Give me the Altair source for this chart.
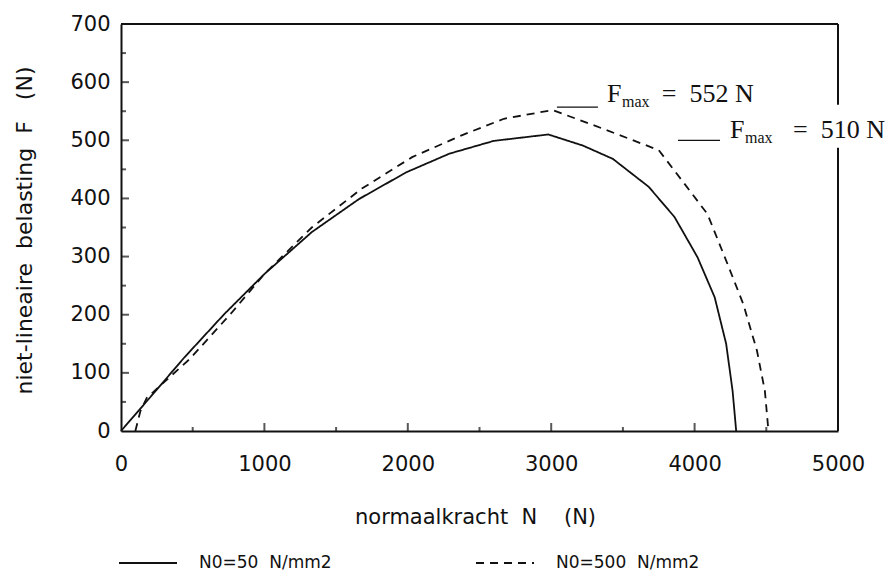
import altair as alt
import pandas as pd

# ---- data ----
series_names = ["N0=50\u00a0\u00a0N/mm2", "N0=500\u00a0\u00a0N/mm2"]

n_solid = [0, 200, 440, 720, 1000, 1330, 1660, 1990, 2290, 2600, 2980, 3220, 3430,
           3680, 3860, 4020, 4140, 4220, 4265, 4290]
f_solid = [0, 57, 126, 201, 270, 342, 399, 445, 477, 499, 510, 491, 468,
           420, 368, 299, 230, 150, 69, 0]

n_dash = [100, 135, 180, 480, 770, 1000, 1330, 1680, 2030, 2380, 2670, 3010, 3360,
          3750, 3930, 4090, 4230, 4340, 4435, 4490, 4515]
f_dash = [0, 34, 57, 124, 203, 270, 350, 417, 471, 509, 537, 552, 520,
          483, 425, 373, 287, 218, 138, 69, 0]

x_ticks = [0, 1000, 2000, 3000, 4000, 5000]
y_ticks = [0, 100, 200, 300, 400, 500, 600, 700]
x_minor = [500, 1500, 2500, 3500, 4500]
y_minor = [50, 150, 250, 350, 450, 550, 650]

# annotations (F_max labels)
ann_values = ["552", "510"]
ann_f_n = [3389, 4247]      # where "F" starts
ann_eq_n = [3771, 4686]     # where "= ... N" starts
ann_base_f = [566, 504]     # text baseline
ann_line_n1 = [3040, 3884]  # leader line start
ann_line_n2 = [3326, 4177]  # leader line end
ann_line_f = [557, 500]

# frame segments (right edge interrupted by the annotation)
frame_x1 = [0, 5000, 5000]
frame_x2 = [5000, 5000, 5000]
frame_y1 = [700, 0, 561]
frame_y2 = [700, 487, 700]

# ---- tables ----
rows = []
for i, (n, f) in enumerate(zip(n_solid, f_solid)):
    rows.append({"series": series_names[0], "n": n, "f": f, "i": i})
for i, (n, f) in enumerate(zip(n_dash, f_dash)):
    rows.append({"series": series_names[1], "n": n, "f": f, "i": i})
df = pd.DataFrame(rows)

ann = pd.DataFrame({
    "fn": ann_f_n, "eqn": ann_eq_n, "bf": ann_base_f,
    "eq": ["=\u00a0\u00a0" + v + "\u00a0N" for v in ann_values],
    "l1": ann_line_n1, "l2": ann_line_n2, "lf": ann_line_f,
})
frame = pd.DataFrame({"x1": frame_x1, "x2": frame_x2, "y1": frame_y1, "y2": frame_y2})

xt_major = pd.DataFrame({"v": x_ticks[1:-1], "z": 0})
xt_minor = pd.DataFrame({"v": x_minor, "z": 0})
yt_major = pd.DataFrame({"v": y_ticks[1:-1], "z": 0})
yt_minor = pd.DataFrame({"v": y_minor, "z": 0})

W, H = 717, 407
INK = "#111111"
SANS = "DejaVu Sans"
SERIF = "Liberation Serif"

xs = alt.Scale(domain=[0, 5000], nice=False, zero=False)
ys = alt.Scale(domain=[0, 700], nice=False, zero=False)

lines = alt.Chart(df).mark_line(strokeWidth=1.8, color=INK).encode(
    x=alt.X("n:Q", scale=xs, axis=alt.Axis(
        values=x_ticks, format="d", ticks=False, tickSize=0, grid=False,
        domain=True, domainColor=INK, domainWidth=2,
        labelFont=SANS, labelFontSize=21, labelColor=INK, labelPadding=22,
        labelFlush=False, labelOverlap=False,
        title="normaalkracht\u00a0\u00a0N\u00a0\u00a0\u00a0\u00a0(N)",
        titleFont=SANS, titleFontSize=21, titleFontWeight="normal", titleColor=INK,
        titleX=354, titleY=86, titleAlign="center", titleBaseline="middle")),
    y=alt.Y("f:Q", scale=ys, axis=alt.Axis(
        values=y_ticks, format="d", ticks=False, tickSize=0, grid=False,
        domain=True, domainColor=INK, domainWidth=2,
        labelFont=SANS, labelFontSize=21, labelColor=INK, labelPadding=11,
        labelFlush=False, labelOverlap=False,
        title="niet-lineaire\u00a0\u00a0belasting\u00a0\u00a0F\u00a0\u00a0\u00a0(N)",
        titleFont=SANS, titleFontSize=22, titleFontWeight="normal", titleColor=INK,
        titleX=-97, titleY=206, titleAngle=-90, titleAlign="center", titleBaseline="middle")),
    strokeDash=alt.StrokeDash("series:N",
        scale=alt.Scale(domain=series_names, range=[[1, 0], [8, 6]]),
        legend=alt.Legend(
            orient="none", legendX=-3, legendY=509, direction="horizontal",
            title=None, padding=0, symbolType="stroke", symbolSize=3364,
            symbolStrokeWidth=1.8, symbolStrokeColor=INK,
            labelFont=SANS, labelFontSize=17, labelColor=INK, labelOffset=21,
            labelLimit=0, columnPadding=140)),
    order="i:Q",
)

def xtick_layer(data, length):
    return alt.Chart(data).mark_tick(orient="vertical", size=length, thickness=2,
                                     color=INK, yOffset=-length / 2).encode(
        x=alt.X("v:Q", scale=xs, axis=None), y=alt.Y("z:Q", scale=ys, axis=None))

def ytick_layer(data, length):
    return alt.Chart(data).mark_tick(orient="horizontal", size=length, thickness=2,
                                     color=INK, xOffset=length / 2).encode(
        y=alt.Y("v:Q", scale=ys, axis=None), x=alt.X("z:Q", scale=xs, axis=None))

ticks = [xtick_layer(xt_major, 8), xtick_layer(xt_minor, 4),
         ytick_layer(yt_major, 8), ytick_layer(yt_minor, 5)]

frame_layer = alt.Chart(frame).mark_rule(strokeWidth=2, color=INK).encode(
    x=alt.X("x1:Q", scale=xs, axis=None), x2="x2:Q",
    y=alt.Y("y1:Q", scale=ys, axis=None), y2="y2:Q",
)

leader = alt.Chart(ann).mark_rule(strokeWidth=1.2, color=INK).encode(
    x=alt.X("l1:Q", scale=xs, axis=None), x2="l2:Q",
    y=alt.Y("lf:Q", scale=ys, axis=None),
)

txt_F = alt.Chart(ann).mark_text(font=SERIF, fontSize=26, color=INK, align="left",
                                 baseline="alphabetic", text="F").encode(
    x=alt.X("fn:Q", scale=xs, axis=None), y=alt.Y("bf:Q", scale=ys, axis=None))
txt_max = alt.Chart(ann).mark_text(font=SERIF, fontSize=16, color=INK, align="left",
                                   baseline="alphabetic", text="max", dx=15, dy=5).encode(
    x=alt.X("fn:Q", scale=xs, axis=None), y=alt.Y("bf:Q", scale=ys, axis=None))
txt_eq = alt.Chart(ann).mark_text(font=SERIF, fontSize=26, color=INK, align="left",
                                  baseline="alphabetic").encode(
    x=alt.X("eqn:Q", scale=xs, axis=None), y=alt.Y("bf:Q", scale=ys, axis=None),
    text="eq:N")

chart = alt.layer(lines, *ticks, frame_layer, leader, txt_F, txt_max, txt_eq).resolve_axis(
    x="independent", y="independent"
).properties(
    width=W, height=H, background="white",
    autosize=alt.AutoSizeParams(type="none"),
    padding={"left": 121, "top": 24, "right": 887 - 121 - W, "bottom": 572 - 24 - H},
).configure_view(stroke=None)

chart.save("out.html", embed_options={"renderer": "svg", "actions": False})
